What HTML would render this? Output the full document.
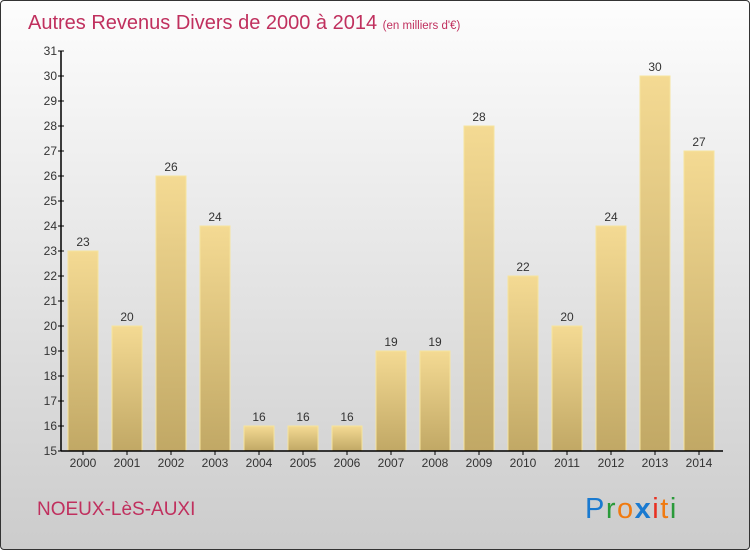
<!DOCTYPE html>
<html><head><meta charset="utf-8"><style>
body{margin:0}
#c{width:750px;height:550px;position:relative;box-sizing:border-box;border:1px solid #333;border-radius:4px;overflow:hidden;background:linear-gradient(#fdfdfd,#cccccc);font-family:"Liberation Sans",sans-serif}
</style></head><body>
<div id="c">
<svg width="750" height="550" style="position:absolute;left:0;top:0">
<defs><linearGradient id="bg" x1="0" y1="0" x2="0" y2="1"><stop offset="0" stop-color="#f4da93"/><stop offset="1" stop-color="#c1a865"/></linearGradient></defs>
<text x="27" y="28" font-size="20" fill="#c0305e">Autres Revenus Divers de 2000 à 2014 <tspan font-size="11.5">(en milliers d'€)</tspan></text>
<g id="plot"></g>
<text x="36" y="514" font-size="19" fill="#c0305e">NOEUX-LèS-AUXI</text>
<g font-size="29" font-family="Liberation Sans, sans-serif">
<text x="584" y="517" letter-spacing="1.5"><tspan fill="#1a7ad0">P</tspan><tspan fill="#2a9a3a">r</tspan><tspan fill="#f07a10">o</tspan><tspan fill="#1a7ad0" font-weight="bold">x</tspan><tspan fill="#e83020">i</tspan><tspan fill="#f07a10">t</tspan><tspan fill="#2a9a3a">i</tspan></text></g>
</svg>
</div>
<script>
const years=["2000","2001","2002","2003","2004","2005","2006","2007","2008","2009","2010","2011","2012","2013","2014"];
const values=[23,20,26,24,16,16,16,19,19,28,22,20,24,30,27];
const yTicks=[15,16,17,18,19,20,21,22,23,24,25,26,27,28,29,30,31];
const ns="http://www.w3.org/2000/svg";
const g=document.getElementById('plot');
const y=v=>450-(v-15)*25;
const x=i=>82+44*i;
function mk(t,a,txt){const e=document.createElementNS(ns,t);for(const k in a)e.setAttribute(k,a[k]);if(txt!=null)e.textContent=txt;g.appendChild(e);return e;}
values.forEach((v,i)=>{
 const b=mk('rect',{x:x(i)-15,y:y(v),width:30,height:450-y(v),fill:'url(#bg)',stroke:'#f6e49e','stroke-width':1});
 
 
 const l=mk('text',{x:x(i),y:y(v)-5,'font-size':12,fill:'#333','text-anchor':'middle'},String(v));
 
 
 const t=mk('text',{x:x(i),y:466,'font-size':12,fill:'#333','text-anchor':'middle'},years[i]);
 
 
 mk('line',{x1:x(i),x2:x(i),y1:450,y2:454,stroke:'#000'});
});
yTicks.forEach(v=>{
 mk('line',{x1:57,x2:63,y1:y(v),y2:y(v),stroke:'#000'});
 const t=mk('text',{x:56,y:y(v)+4,'font-size':12,fill:'#333','text-anchor':'end'},String(v));
 
 
});
const ax=mk('line',{x1:60,x2:60,y1:y(31),y2:450,stroke:'#000','stroke-width':1.5});


const xa=mk('line',{x1:60,x2:722,y1:450,y2:450,stroke:'#000','stroke-width':1.5});


</script>
</body></html>
